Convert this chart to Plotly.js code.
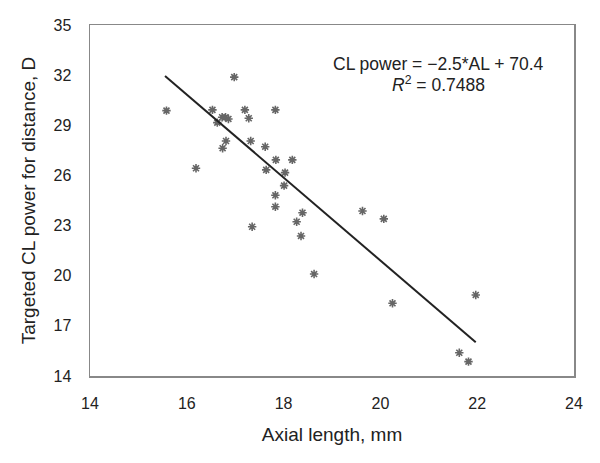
<!DOCTYPE html>
<html>
<head>
<meta charset="utf-8">
<script src="https://cdn.plot.ly/plotly-3.0.1.min.js"></script>
<style>html,body{margin:0;padding:0;background:#fff;}#chart{width:600px;height:463px;}</style>
</head>
<body>
<div id="chart"></div>
<script>
// Axial length (mm) of each eye
const axialLength = [15.58, 16.98, 16.53, 16.73, 16.80, 16.86, 16.63, 17.20, 17.28, 17.83,
  16.81, 16.74, 17.32, 17.62, 16.19, 17.84, 18.18, 17.64, 18.03, 18.01,
  17.83, 17.83, 18.39, 18.27, 17.35, 18.36, 18.63, 19.63, 20.07, 20.25,
  21.97, 21.63, 21.82];
// Targeted CL power for distance (D)
const clPower = [29.88, 31.88, 29.92, 29.48, 29.48, 29.38, 29.16, 29.92, 29.42, 29.92,
  28.06, 27.63, 28.06, 27.72, 26.43, 26.93, 26.93, 26.33, 26.17, 25.39,
  24.81, 24.13, 23.77, 23.23, 22.93, 22.38, 20.10, 23.87, 23.40, 18.35,
  18.85, 15.39, 14.86];
// Linear trend line end points as drawn
const trendX = [15.55, 21.97];
const trendY = [31.95, 16.02];
const xTicks = [14, 16, 18, 20, 22, 24];
const yTicks = [14, 17, 20, 23, 26, 29, 32, 35];
const equationText = "CL power = \u22122.5*AL + 70.4";
const r2Text = "<i>R</i><sup>2</sup> = 0.7488";

const font = "Liberation Sans, Arial, sans-serif";
const data = [
  {x: axialLength, y: clPower, type: "scatter", mode: "markers",
   marker: {symbol: "asterisk-open", size: 7, color: "#666", line: {color: "#666", width: 1.6}},
   hoverinfo: "skip"},
  {x: trendX, y: trendY, type: "scatter", mode: "lines",
   line: {color: "#222", width: 2}, hoverinfo: "skip"}
];
const layout = {
  width: 600, height: 463,
  margin: {l: 90, r: 26, t: 25, b: 87},
  paper_bgcolor: "#fff", plot_bgcolor: "#fff",
  showlegend: false,
  font: {family: font, color: "#222"},
  xaxis: {range: [14, 24], tickvals: xTicks, showgrid: false, zeroline: false,
    showline: true, mirror: true, linecolor: "#888", linewidth: 1.5,
    ticks: "", ticklabelstandoff: 12, tickfont: {size: 16, color: "#222"},
    title: {text: "Axial length, mm", font: {size: 19, color: "#222"}, standoff: 17}},
  yaxis: {range: [14, 35], tickvals: yTicks, showgrid: false, zeroline: false,
    showline: true, mirror: true, linecolor: "#888", linewidth: 1.5,
    ticks: "", ticklabelstandoff: 14, tickfont: {size: 16, color: "#222"},
    title: {text: "Targeted CL power for distance, D", font: {size: 19, color: "#222"}, standoff: 13}},
  annotations: [
    {xref: "paper", yref: "paper", x: 0.72, y: 0.888, text: equationText, showarrow: false,
     xanchor: "center", yanchor: "middle", font: {size: 17.5, color: "#222"}},
    {xref: "paper", yref: "paper", x: 0.72, y: 0.832, text: r2Text, showarrow: false,
     xanchor: "center", yanchor: "middle", font: {size: 17.5, color: "#222"}}
  ]
};
Plotly.newPlot("chart", data, layout, {displayModeBar: false, staticPlot: true});
</script>
</body>
</html>
